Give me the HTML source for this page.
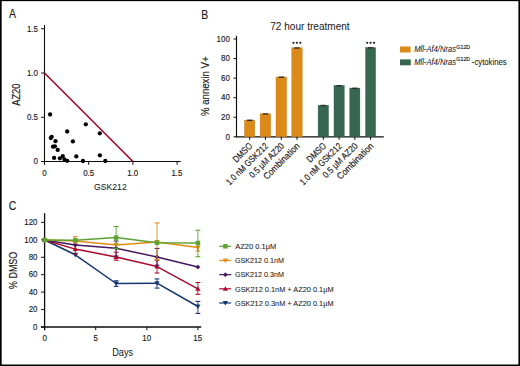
<!DOCTYPE html>
<html><head><meta charset="utf-8"><style>
html,body{margin:0;padding:0;background:#fff;}
body{width:520px;height:366px;overflow:hidden;position:relative;}
svg{position:absolute;left:0;top:0;font-family:"Liberation Sans", sans-serif;}
text{stroke:#1a1718;stroke-width:0.15px;}
</style></head><body>
<svg width="520" height="366" viewBox="0 0 520 366">
<rect x="0" y="0" width="520" height="366" fill="#fff"/>
<text x="8.98" y="18.40" font-size="12.0" textLength="6.94" lengthAdjust="spacingAndGlyphs" fill="#1a1718" >A</text>
<line x1="44.50" y1="25.00" x2="44.50" y2="164.80" stroke="#0d0d0d" stroke-width="1.1" />
<line x1="41.10" y1="161.50" x2="180.80" y2="161.50" stroke="#0d0d0d" stroke-width="1.1" />
<line x1="41.10" y1="117.25" x2="44.50" y2="117.25" stroke="#0d0d0d" stroke-width="1" />
<line x1="41.10" y1="73.00" x2="44.50" y2="73.00" stroke="#0d0d0d" stroke-width="1" />
<line x1="41.10" y1="28.75" x2="44.50" y2="28.75" stroke="#0d0d0d" stroke-width="1" />
<line x1="88.70" y1="161.50" x2="88.70" y2="164.80" stroke="#0d0d0d" stroke-width="1" />
<line x1="132.90" y1="161.50" x2="132.90" y2="164.80" stroke="#0d0d0d" stroke-width="1" />
<line x1="177.10" y1="161.50" x2="177.10" y2="164.80" stroke="#0d0d0d" stroke-width="1" />
<text x="33.51" y="164.25" font-size="8.8" textLength="4.40" lengthAdjust="spacingAndGlyphs" fill="#1a1718" >0</text>
<text x="26.92" y="120.00" font-size="8.8" textLength="11.01" lengthAdjust="spacingAndGlyphs" fill="#1a1718" >0.5</text>
<text x="26.90" y="75.75" font-size="8.8" textLength="11.01" lengthAdjust="spacingAndGlyphs" fill="#1a1718" >1.0</text>
<text x="26.92" y="31.50" font-size="8.8" textLength="11.01" lengthAdjust="spacingAndGlyphs" fill="#1a1718" >1.5</text>
<text x="42.30" y="175.80" font-size="8.8" textLength="4.40" lengthAdjust="spacingAndGlyphs" fill="#1a1718" >0</text>
<text x="83.21" y="175.80" font-size="8.8" textLength="11.01" lengthAdjust="spacingAndGlyphs" fill="#1a1718" >0.5</text>
<text x="127.25" y="175.80" font-size="8.8" textLength="11.01" lengthAdjust="spacingAndGlyphs" fill="#1a1718" >1.0</text>
<text x="171.46" y="175.80" font-size="8.8" textLength="11.01" lengthAdjust="spacingAndGlyphs" fill="#1a1718" >1.5</text>
<text x="94.07" y="189.60" font-size="9.4" textLength="32.67" lengthAdjust="spacingAndGlyphs" fill="#1a1718" style="stroke-width:0.05px">GSK212</text>
<text transform="translate(19.90,105.72) rotate(-90)" font-size="10.2" textLength="22.08" lengthAdjust="spacingAndGlyphs" fill="#1a1718">AZ20</text>
<line x1="44.50" y1="73.00" x2="132.90" y2="161.50" stroke="#a5001f" stroke-width="1.5" />
<circle cx="50.1" cy="114.5" r="2.15" fill="#000"/>
<circle cx="85.8" cy="124.3" r="2.15" fill="#000"/>
<circle cx="67.2" cy="131.5" r="2.15" fill="#000"/>
<circle cx="99.8" cy="133.3" r="2.15" fill="#000"/>
<circle cx="51.7" cy="136.8" r="2.15" fill="#000"/>
<circle cx="50.8" cy="138.1" r="2.15" fill="#000"/>
<circle cx="55.5" cy="141.2" r="2.15" fill="#000"/>
<circle cx="72.9" cy="141.4" r="2.15" fill="#000"/>
<circle cx="53" cy="146.7" r="2.15" fill="#000"/>
<circle cx="54.9" cy="146.3" r="2.15" fill="#000"/>
<circle cx="57.7" cy="149.9" r="2.15" fill="#000"/>
<circle cx="54.1" cy="157.9" r="2.15" fill="#000"/>
<circle cx="59.9" cy="158.3" r="2.15" fill="#000"/>
<circle cx="62.8" cy="156.1" r="2.15" fill="#000"/>
<circle cx="64.5" cy="159.5" r="2.15" fill="#000"/>
<circle cx="67.2" cy="160.8" r="2.15" fill="#000"/>
<circle cx="76.3" cy="156.4" r="2.15" fill="#000"/>
<circle cx="82.9" cy="161.0" r="2.15" fill="#000"/>
<circle cx="99.9" cy="155.3" r="2.15" fill="#000"/>
<circle cx="105.3" cy="161.0" r="2.15" fill="#000"/>
<text x="201.35" y="18.50" font-size="12.6" textLength="6.90" lengthAdjust="spacingAndGlyphs" fill="#1a1718" >B</text>
<text x="270.29" y="29.50" font-size="10.0" textLength="79.38" lengthAdjust="spacingAndGlyphs" fill="#1a1718" style="stroke-width:0">72 hour treatment</text>
<line x1="236.50" y1="35.80" x2="236.50" y2="137.30" stroke="#0d0d0d" stroke-width="1.15" />
<line x1="236.00" y1="136.80" x2="383.80" y2="136.80" stroke="#0d0d0d" stroke-width="1.3" />
<line x1="233.50" y1="136.80" x2="236.50" y2="136.80" stroke="#0d0d0d" stroke-width="1" />
<text x="225.41" y="139.60" font-size="8.8" textLength="4.40" lengthAdjust="spacingAndGlyphs" fill="#1a1718" >0</text>
<line x1="233.50" y1="117.24" x2="236.50" y2="117.24" stroke="#0d0d0d" stroke-width="1" />
<text x="221.00" y="120.04" font-size="8.8" textLength="8.81" lengthAdjust="spacingAndGlyphs" fill="#1a1718" >20</text>
<line x1="233.50" y1="97.68" x2="236.50" y2="97.68" stroke="#0d0d0d" stroke-width="1" />
<text x="221.00" y="100.48" font-size="8.8" textLength="8.81" lengthAdjust="spacingAndGlyphs" fill="#1a1718" >40</text>
<line x1="233.50" y1="78.12" x2="236.50" y2="78.12" stroke="#0d0d0d" stroke-width="1" />
<text x="221.00" y="80.92" font-size="8.8" textLength="8.81" lengthAdjust="spacingAndGlyphs" fill="#1a1718" >60</text>
<line x1="233.50" y1="58.56" x2="236.50" y2="58.56" stroke="#0d0d0d" stroke-width="1" />
<text x="221.00" y="61.36" font-size="8.8" textLength="8.81" lengthAdjust="spacingAndGlyphs" fill="#1a1718" >80</text>
<line x1="233.50" y1="39.00" x2="236.50" y2="39.00" stroke="#0d0d0d" stroke-width="1" />
<text x="216.60" y="41.80" font-size="8.8" textLength="13.21" lengthAdjust="spacingAndGlyphs" fill="#1a1718" >100</text>
<rect x="244.5" y="120.10" width="10.30" height="16.70" fill="#db8a1a" stroke="#c97a10" stroke-width="0.4"/>
<line x1="246.95" y1="120.30" x2="252.35" y2="120.30" stroke="#2b2b2b" stroke-width="1.4" />
<line x1="249.65" y1="136.80" x2="249.65" y2="139.80" stroke="#0d0d0d" stroke-width="1" />
<rect x="260.1" y="113.80" width="10.60" height="23.00" fill="#db8a1a" stroke="#c97a10" stroke-width="0.4"/>
<line x1="262.70" y1="114.00" x2="268.10" y2="114.00" stroke="#2b2b2b" stroke-width="1.4" />
<line x1="265.40" y1="136.80" x2="265.40" y2="139.80" stroke="#0d0d0d" stroke-width="1" />
<rect x="276.0" y="77.00" width="10.60" height="59.80" fill="#db8a1a" stroke="#c97a10" stroke-width="0.4"/>
<line x1="278.60" y1="77.20" x2="284.00" y2="77.20" stroke="#2b2b2b" stroke-width="1.4" />
<line x1="281.30" y1="136.80" x2="281.30" y2="139.80" stroke="#0d0d0d" stroke-width="1" />
<rect x="291.8" y="47.80" width="10.40" height="89.00" fill="#db8a1a" stroke="#c97a10" stroke-width="0.4"/>
<line x1="294.30" y1="48.00" x2="299.70" y2="48.00" stroke="#2b2b2b" stroke-width="1.4" />
<line x1="297.00" y1="136.80" x2="297.00" y2="139.80" stroke="#0d0d0d" stroke-width="1" />
<rect x="318.1" y="105.30" width="10.40" height="31.50" fill="#376750" stroke="#2a5a41" stroke-width="0.4"/>
<line x1="320.60" y1="105.50" x2="326.00" y2="105.50" stroke="#2b2b2b" stroke-width="1.4" />
<line x1="323.30" y1="136.80" x2="323.30" y2="139.80" stroke="#0d0d0d" stroke-width="1" />
<rect x="334.0" y="85.50" width="10.20" height="51.30" fill="#376750" stroke="#2a5a41" stroke-width="0.4"/>
<line x1="336.40" y1="85.70" x2="341.80" y2="85.70" stroke="#2b2b2b" stroke-width="1.4" />
<line x1="339.10" y1="136.80" x2="339.10" y2="139.80" stroke="#0d0d0d" stroke-width="1" />
<rect x="349.8" y="88.10" width="10.10" height="48.70" fill="#376750" stroke="#2a5a41" stroke-width="0.4"/>
<line x1="352.15" y1="88.30" x2="357.55" y2="88.30" stroke="#2b2b2b" stroke-width="1.4" />
<line x1="354.85" y1="136.80" x2="354.85" y2="139.80" stroke="#0d0d0d" stroke-width="1" />
<rect x="365.6" y="47.60" width="10.00" height="89.20" fill="#376750" stroke="#2a5a41" stroke-width="0.4"/>
<line x1="367.90" y1="47.80" x2="373.30" y2="47.80" stroke="#2b2b2b" stroke-width="1.4" />
<line x1="370.60" y1="136.80" x2="370.60" y2="139.80" stroke="#0d0d0d" stroke-width="1" />
<circle cx="293.45" cy="42.8" r="1.15" fill="#2a2a2a"/>
<circle cx="296.90" cy="42.8" r="1.15" fill="#2a2a2a"/>
<circle cx="300.35" cy="42.8" r="1.15" fill="#2a2a2a"/>
<circle cx="367.15" cy="42.8" r="1.15" fill="#2a2a2a"/>
<circle cx="370.60" cy="42.8" r="1.15" fill="#2a2a2a"/>
<circle cx="374.05" cy="42.8" r="1.15" fill="#2a2a2a"/>
<text transform="translate(253.05,146.6) rotate(-45)" font-size="9.2" text-anchor="end" fill="#1a1718" textLength="23.32" lengthAdjust="spacingAndGlyphs">DMSO</text>
<text transform="translate(268.80,146.6) rotate(-45)" font-size="9.2" text-anchor="end" fill="#1a1718" textLength="55.31" lengthAdjust="spacingAndGlyphs">1.0 nM GSK212</text>
<text transform="translate(284.70,146.6) rotate(-45)" font-size="9.2" text-anchor="end" fill="#1a1718" textLength="45.28" lengthAdjust="spacingAndGlyphs">0.5 μM AZ20</text>
<text transform="translate(300.40,146.6) rotate(-45)" font-size="9.2" text-anchor="end" fill="#1a1718" textLength="47.26" lengthAdjust="spacingAndGlyphs">Combination</text>
<text transform="translate(326.70,146.6) rotate(-45)" font-size="9.2" text-anchor="end" fill="#1a1718" textLength="23.32" lengthAdjust="spacingAndGlyphs">DMSO</text>
<text transform="translate(342.50,146.6) rotate(-45)" font-size="9.2" text-anchor="end" fill="#1a1718" textLength="55.31" lengthAdjust="spacingAndGlyphs">1.0 nM GSK212</text>
<text transform="translate(358.25,146.6) rotate(-45)" font-size="9.2" text-anchor="end" fill="#1a1718" textLength="45.28" lengthAdjust="spacingAndGlyphs">0.5 μM AZ20</text>
<text transform="translate(374.00,146.6) rotate(-45)" font-size="9.2" text-anchor="end" fill="#1a1718" textLength="47.26" lengthAdjust="spacingAndGlyphs">Combination</text>
<text transform="translate(209.00,116.05) rotate(-90)" font-size="10.0" textLength="59.72" lengthAdjust="spacingAndGlyphs" fill="#1a1718">% annexin V+</text>
<rect x="400" y="46.5" width="10.6" height="6" fill="#db8a1a"/>
<rect x="400" y="59.4" width="10.8" height="5.9" fill="#376750"/>
<text x="414.16" y="52.40" font-size="8.4" textLength="41.79" lengthAdjust="spacingAndGlyphs" fill="#1a1718" style="stroke-width:0.06px" font-style="italic">Mll-Af4/Nras</text>
<text x="456.23" y="49.00" font-size="6.0" textLength="14.03" lengthAdjust="spacingAndGlyphs" fill="#1a1718" >G12D</text>
<text x="414.16" y="64.80" font-size="8.4" textLength="41.79" lengthAdjust="spacingAndGlyphs" fill="#1a1718" style="stroke-width:0.06px" font-style="italic">Mll-Af4/Nras</text>
<text x="456.23" y="61.40" font-size="6.0" textLength="14.03" lengthAdjust="spacingAndGlyphs" fill="#1a1718" >G12D</text>
<text x="471.86" y="64.80" font-size="8.2" textLength="34.82" lengthAdjust="spacingAndGlyphs" fill="#1a1718" style="stroke-width:0.06px">-cytokines</text>
<text x="8.77" y="210.20" font-size="12.2" textLength="7.53" lengthAdjust="spacingAndGlyphs" fill="#1a1718" >C</text>
<line x1="44.60" y1="213.20" x2="44.60" y2="330.20" stroke="#0d0d0d" stroke-width="1.3" />
<line x1="41.10" y1="327.00" x2="201.20" y2="327.00" stroke="#0d0d0d" stroke-width="1.3" />
<line x1="41.10" y1="327.00" x2="44.60" y2="327.00" stroke="#0d0d0d" stroke-width="1" />
<text x="33.11" y="329.80" font-size="8.8" textLength="4.40" lengthAdjust="spacingAndGlyphs" fill="#1a1718" >0</text>
<line x1="41.10" y1="309.56" x2="44.60" y2="309.56" stroke="#0d0d0d" stroke-width="1" />
<text x="28.70" y="312.36" font-size="8.8" textLength="8.81" lengthAdjust="spacingAndGlyphs" fill="#1a1718" >20</text>
<line x1="41.10" y1="292.12" x2="44.60" y2="292.12" stroke="#0d0d0d" stroke-width="1" />
<text x="28.70" y="294.92" font-size="8.8" textLength="8.81" lengthAdjust="spacingAndGlyphs" fill="#1a1718" >40</text>
<line x1="41.10" y1="274.68" x2="44.60" y2="274.68" stroke="#0d0d0d" stroke-width="1" />
<text x="28.70" y="277.48" font-size="8.8" textLength="8.81" lengthAdjust="spacingAndGlyphs" fill="#1a1718" >60</text>
<line x1="41.10" y1="257.24" x2="44.60" y2="257.24" stroke="#0d0d0d" stroke-width="1" />
<text x="28.70" y="260.04" font-size="8.8" textLength="8.81" lengthAdjust="spacingAndGlyphs" fill="#1a1718" >80</text>
<line x1="41.10" y1="239.80" x2="44.60" y2="239.80" stroke="#0d0d0d" stroke-width="1" />
<text x="24.30" y="242.60" font-size="8.8" textLength="13.21" lengthAdjust="spacingAndGlyphs" fill="#1a1718" >100</text>
<line x1="41.10" y1="222.36" x2="44.60" y2="222.36" stroke="#0d0d0d" stroke-width="1" />
<text x="24.30" y="225.16" font-size="8.8" textLength="13.21" lengthAdjust="spacingAndGlyphs" fill="#1a1718" >120</text>
<line x1="44.60" y1="327.00" x2="44.60" y2="330.20" stroke="#0d0d0d" stroke-width="1" />
<text x="42.40" y="341.40" font-size="8.8" textLength="4.40" lengthAdjust="spacingAndGlyphs" fill="#1a1718" >0</text>
<line x1="95.70" y1="327.00" x2="95.70" y2="330.20" stroke="#0d0d0d" stroke-width="1" />
<text x="93.51" y="341.40" font-size="8.8" textLength="4.40" lengthAdjust="spacingAndGlyphs" fill="#1a1718" >5</text>
<line x1="146.80" y1="327.00" x2="146.80" y2="330.20" stroke="#0d0d0d" stroke-width="1" />
<text x="142.25" y="341.40" font-size="8.8" textLength="8.81" lengthAdjust="spacingAndGlyphs" fill="#1a1718" >10</text>
<line x1="197.90" y1="327.00" x2="197.90" y2="330.20" stroke="#0d0d0d" stroke-width="1" />
<text x="193.36" y="341.40" font-size="8.8" textLength="8.81" lengthAdjust="spacingAndGlyphs" fill="#1a1718" >15</text>
<text x="112.25" y="356.00" font-size="10.2" textLength="20.88" lengthAdjust="spacingAndGlyphs" fill="#1a1718" style="stroke-width:0.05px">Days</text>
<text transform="translate(17.20,288.92) rotate(-90)" font-size="10.4" textLength="37.15" lengthAdjust="spacingAndGlyphs" fill="#1a1718">% DMSO</text>
<line x1="116.14" y1="280.80" x2="116.14" y2="286.40" stroke="#163470" stroke-width="0.9" />
<line x1="113.74" y1="280.80" x2="118.54" y2="280.80" stroke="#163470" stroke-width="1.1" />
<line x1="113.74" y1="286.40" x2="118.54" y2="286.40" stroke="#163470" stroke-width="1.1" />
<line x1="157.02" y1="278.90" x2="157.02" y2="288.10" stroke="#163470" stroke-width="0.9" />
<line x1="154.62" y1="278.90" x2="159.42" y2="278.90" stroke="#163470" stroke-width="1.1" />
<line x1="154.62" y1="288.10" x2="159.42" y2="288.10" stroke="#163470" stroke-width="1.1" />
<line x1="197.90" y1="301.40" x2="197.90" y2="313.40" stroke="#163470" stroke-width="0.9" />
<line x1="195.50" y1="301.40" x2="200.30" y2="301.40" stroke="#163470" stroke-width="1.1" />
<line x1="195.50" y1="313.40" x2="200.30" y2="313.40" stroke="#163470" stroke-width="1.1" />
<polyline points="44.60,240.00 75.26,254.80 116.14,283.50 157.02,283.20 197.90,306.50" fill="none" stroke="#163470" stroke-width="1.5" stroke-linejoin="round"/>
<path d="M42.00,238.05L47.20,238.05L44.60,242.60Z" fill="#163470"/>
<path d="M72.66,252.85L77.86,252.85L75.26,257.40Z" fill="#163470"/>
<path d="M113.54,281.55L118.74,281.55L116.14,286.10Z" fill="#163470"/>
<path d="M154.42,281.25L159.62,281.25L157.02,285.80Z" fill="#163470"/>
<path d="M195.30,304.55L200.50,304.55L197.90,309.10Z" fill="#163470"/>
<line x1="75.26" y1="244.20" x2="75.26" y2="254.00" stroke="#ad0a2d" stroke-width="0.9" />
<line x1="72.86" y1="244.20" x2="77.66" y2="244.20" stroke="#ad0a2d" stroke-width="1.1" />
<line x1="72.86" y1="254.00" x2="77.66" y2="254.00" stroke="#ad0a2d" stroke-width="1.1" />
<line x1="116.14" y1="252.20" x2="116.14" y2="260.20" stroke="#ad0a2d" stroke-width="0.9" />
<line x1="113.74" y1="252.20" x2="118.54" y2="252.20" stroke="#ad0a2d" stroke-width="1.1" />
<line x1="113.74" y1="260.20" x2="118.54" y2="260.20" stroke="#ad0a2d" stroke-width="1.1" />
<line x1="157.02" y1="260.20" x2="157.02" y2="273.00" stroke="#ad0a2d" stroke-width="0.9" />
<line x1="154.62" y1="260.20" x2="159.42" y2="260.20" stroke="#ad0a2d" stroke-width="1.1" />
<line x1="154.62" y1="273.00" x2="159.42" y2="273.00" stroke="#ad0a2d" stroke-width="1.1" />
<line x1="197.90" y1="282.50" x2="197.90" y2="294.30" stroke="#ad0a2d" stroke-width="0.9" />
<line x1="195.50" y1="282.50" x2="200.30" y2="282.50" stroke="#ad0a2d" stroke-width="1.1" />
<line x1="195.50" y1="294.30" x2="200.30" y2="294.30" stroke="#ad0a2d" stroke-width="1.1" />
<polyline points="44.60,240.00 75.26,249.10 116.14,257.00 157.02,266.60 197.90,288.80" fill="none" stroke="#ad0a2d" stroke-width="1.5" stroke-linejoin="round"/>
<path d="M42.00,241.95L47.20,241.95L44.60,237.40Z" fill="#ad0a2d"/>
<path d="M72.66,251.05L77.86,251.05L75.26,246.50Z" fill="#ad0a2d"/>
<path d="M113.54,258.95L118.74,258.95L116.14,254.40Z" fill="#ad0a2d"/>
<path d="M154.42,268.55L159.62,268.55L157.02,264.00Z" fill="#ad0a2d"/>
<path d="M195.30,290.75L200.50,290.75L197.90,286.20Z" fill="#ad0a2d"/>
<line x1="116.14" y1="241.00" x2="116.14" y2="256.00" stroke="#44195f" stroke-width="0.9" />
<line x1="113.74" y1="241.00" x2="118.54" y2="241.00" stroke="#44195f" stroke-width="1.1" />
<line x1="113.74" y1="256.00" x2="118.54" y2="256.00" stroke="#44195f" stroke-width="1.1" />
<line x1="157.02" y1="248.40" x2="157.02" y2="265.20" stroke="#44195f" stroke-width="0.9" />
<line x1="154.62" y1="248.40" x2="159.42" y2="248.40" stroke="#44195f" stroke-width="1.1" />
<line x1="154.62" y1="265.20" x2="159.42" y2="265.20" stroke="#44195f" stroke-width="1.1" />
<polyline points="44.60,240.00 75.26,245.00 116.14,248.20 157.02,257.00 197.90,267.10" fill="none" stroke="#44195f" stroke-width="1.5" stroke-linejoin="round"/>
<path d="M42.20,240.00L44.60,237.60L47.00,240.00L44.60,242.40Z" fill="#44195f"/>
<path d="M72.86,245.00L75.26,242.60L77.66,245.00L75.26,247.40Z" fill="#44195f"/>
<path d="M113.74,248.20L116.14,245.80L118.54,248.20L116.14,250.60Z" fill="#44195f"/>
<path d="M154.62,257.00L157.02,254.60L159.42,257.00L157.02,259.40Z" fill="#44195f"/>
<path d="M195.50,267.10L197.90,264.70L200.30,267.10L197.90,269.50Z" fill="#44195f"/>
<line x1="75.26" y1="236.70" x2="75.26" y2="243.00" stroke="#e58c14" stroke-width="0.9" />
<line x1="72.86" y1="236.70" x2="77.66" y2="236.70" stroke="#e58c14" stroke-width="1.1" />
<line x1="72.86" y1="243.00" x2="77.66" y2="243.00" stroke="#e58c14" stroke-width="1.1" />
<line x1="157.02" y1="222.90" x2="157.02" y2="259.70" stroke="#e58c14" stroke-width="0.9" />
<line x1="154.62" y1="222.90" x2="159.42" y2="222.90" stroke="#e58c14" stroke-width="1.1" />
<line x1="154.62" y1="259.70" x2="159.42" y2="259.70" stroke="#e58c14" stroke-width="1.1" />
<line x1="197.90" y1="243.00" x2="197.90" y2="251.00" stroke="#e58c14" stroke-width="0.9" />
<line x1="195.50" y1="243.00" x2="200.30" y2="243.00" stroke="#e58c14" stroke-width="1.1" />
<line x1="195.50" y1="251.00" x2="200.30" y2="251.00" stroke="#e58c14" stroke-width="1.1" />
<polyline points="44.60,240.00 75.26,240.90 116.14,245.00 157.02,242.00 197.90,247.60" fill="none" stroke="#e58c14" stroke-width="1.5" stroke-linejoin="round"/>
<path d="M42.00,238.05L47.20,238.05L44.60,242.60Z" fill="#e58c14"/>
<path d="M72.66,238.95L77.86,238.95L75.26,243.50Z" fill="#e58c14"/>
<path d="M113.54,243.05L118.74,243.05L116.14,247.60Z" fill="#e58c14"/>
<path d="M154.42,240.05L159.62,240.05L157.02,244.60Z" fill="#e58c14"/>
<path d="M195.30,245.65L200.50,245.65L197.90,250.20Z" fill="#e58c14"/>
<line x1="116.14" y1="226.50" x2="116.14" y2="248.60" stroke="#5da233" stroke-width="0.9" />
<line x1="113.74" y1="226.50" x2="118.54" y2="226.50" stroke="#5da233" stroke-width="1.1" />
<line x1="113.74" y1="248.60" x2="118.54" y2="248.60" stroke="#5da233" stroke-width="1.1" />
<line x1="197.90" y1="230.20" x2="197.90" y2="256.70" stroke="#5da233" stroke-width="0.9" />
<line x1="195.50" y1="230.20" x2="200.30" y2="230.20" stroke="#5da233" stroke-width="1.1" />
<line x1="195.50" y1="256.70" x2="200.30" y2="256.70" stroke="#5da233" stroke-width="1.1" />
<polyline points="44.60,240.00 75.26,240.30 116.14,237.60 157.02,242.80 197.90,243.00" fill="none" stroke="#5da233" stroke-width="1.5" stroke-linejoin="round"/>
<rect x="42.35" y="237.75" width="4.50" height="4.50" fill="#5da233"/>
<rect x="73.01" y="238.05" width="4.50" height="4.50" fill="#5da233"/>
<rect x="113.89" y="235.35" width="4.50" height="4.50" fill="#5da233"/>
<rect x="154.77" y="240.55" width="4.50" height="4.50" fill="#5da233"/>
<rect x="195.65" y="240.75" width="4.50" height="4.50" fill="#5da233"/>
<line x1="219.20" y1="246.30" x2="231.20" y2="246.30" stroke="#5da233" stroke-width="1.2" />
<rect x="223.15" y="244.05" width="4.50" height="4.50" fill="#5da233"/>
<text x="235.29" y="249.10" font-size="7.9" textLength="40.93" lengthAdjust="spacingAndGlyphs" fill="#1a1718" style="stroke-width:0.06px">AZ20 0.1μM</text>
<line x1="219.20" y1="260.47" x2="231.20" y2="260.47" stroke="#e58c14" stroke-width="1.2" />
<path d="M222.80,258.52L228.00,258.52L225.40,263.07Z" fill="#e58c14"/>
<text x="234.94" y="263.27" font-size="7.9" textLength="48.95" lengthAdjust="spacingAndGlyphs" fill="#1a1718" style="stroke-width:0.06px">GSK212 0.1nM</text>
<line x1="219.20" y1="274.64" x2="231.20" y2="274.64" stroke="#44195f" stroke-width="1.2" />
<path d="M223.00,274.64L225.40,272.24L227.80,274.64L225.40,277.04Z" fill="#44195f"/>
<text x="234.94" y="277.44" font-size="7.9" textLength="48.95" lengthAdjust="spacingAndGlyphs" fill="#1a1718" style="stroke-width:0.06px">GSK212 0.3nM</text>
<line x1="219.20" y1="288.81" x2="231.20" y2="288.81" stroke="#ad0a2d" stroke-width="1.2" />
<path d="M222.80,290.76L228.00,290.76L225.40,286.21Z" fill="#ad0a2d"/>
<text x="234.93" y="291.61" font-size="7.9" textLength="98.67" lengthAdjust="spacingAndGlyphs" fill="#1a1718" style="stroke-width:0.06px">GSK212 0.1nM + AZ20 0.1μM</text>
<line x1="219.20" y1="302.98" x2="231.20" y2="302.98" stroke="#163470" stroke-width="1.2" />
<path d="M222.80,301.03L228.00,301.03L225.40,305.58Z" fill="#163470"/>
<text x="234.93" y="305.78" font-size="7.9" textLength="98.67" lengthAdjust="spacingAndGlyphs" fill="#1a1718" style="stroke-width:0.06px">GSK212 0.3nM + AZ20 0.1μM</text>
<rect x="0" y="0" width="520" height="1.15" fill="#000"/>
<rect x="0" y="0" width="1.65" height="366" fill="#000"/>
<rect x="518.4" y="0" width="1.6" height="366" fill="#000"/>
<rect x="0" y="364.5" width="520" height="1.5" fill="#000"/>
</svg>
</body></html>
